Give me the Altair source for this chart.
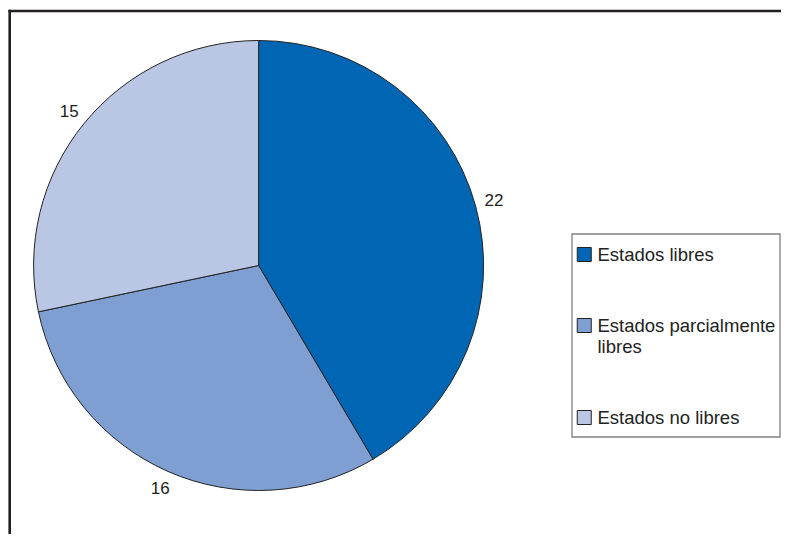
import altair as alt
import pandas as pd

categories = ["Estados libres", "Estados parcialmente libres", "Estados no libres"]
values = [22, 16, 15]
colors = ["#0066B3", "#7F9FD3", "#B9C7E5"]
order_idx = [0, 1, 2]

df = pd.DataFrame({"cat": categories, "val": values, "ord": order_idx})

CX, CY, R = 250.6, 257.5, 225

base = alt.Chart(df).encode(
    theta=alt.Theta("val:Q", stack=True),
    order=alt.Order("ord:Q"),
    x=alt.value(CX),
    y=alt.value(CY),
)

pie = base.mark_arc(outerRadius=R, stroke="#222222", strokeWidth=1).encode(
    color=alt.Color(
        "cat:N",
        scale=alt.Scale(domain=categories, range=colors),
        legend=alt.Legend(
            title=None,
            orient="none",
            legendX=557,
            legendY=227.25,
            padding=10,
            symbolType="square",
            symbolSize=196,
            symbolStrokeColor="#222222",
            symbolStrokeWidth=1,
            symbolOpacity=1,
            labelFont="Liberation Sans",
            labelFontSize=18.5,
            labelColor="#222222",
            labelOffset=4,
            labelLimit=400,
            rowPadding=52,
            labelExpr="datum.label == 'Estados parcialmente libres' ? ['Estados parcialmente', 'libres'] : datum.label",
        ),
    )
)

labels = base.mark_text(
    radius=244, font="Liberation Sans", fontSize=17, color="#222222"
).encode(text="val:Q")

frame_data = alt.Data(values=[{"k": 1}])
left_line = alt.Chart(frame_data).mark_rule(color="#231F20", strokeWidth=2.6).encode(
    x=alt.value(1.7), y=alt.value(1.7), y2=alt.value(526)
)
top_line = alt.Chart(frame_data).mark_rule(color="#231F20", strokeWidth=2.6).encode(
    x=alt.value(0.4), x2=alt.value(773), y=alt.value(3)
)
legend_box = alt.Chart(frame_data).mark_rect(
    filled=False, stroke="#808080", strokeWidth=1.3
).encode(
    x=alt.value(564), x2=alt.value(772), y=alt.value(226), y2=alt.value(429)
)

chart = alt.layer(pie, labels, left_line, top_line, legend_box).properties(
    width=773,
    height=526,
    autosize=alt.AutoSizeParams(type="none"),
    padding=0,
    background="white",
).configure(
    style={"guide-label": {"lineHeight": 21}},
    view=alt.ViewConfig(strokeWidth=0),
)

chart.save("out.html", embed_options={"renderer": "svg", "actions": False})
